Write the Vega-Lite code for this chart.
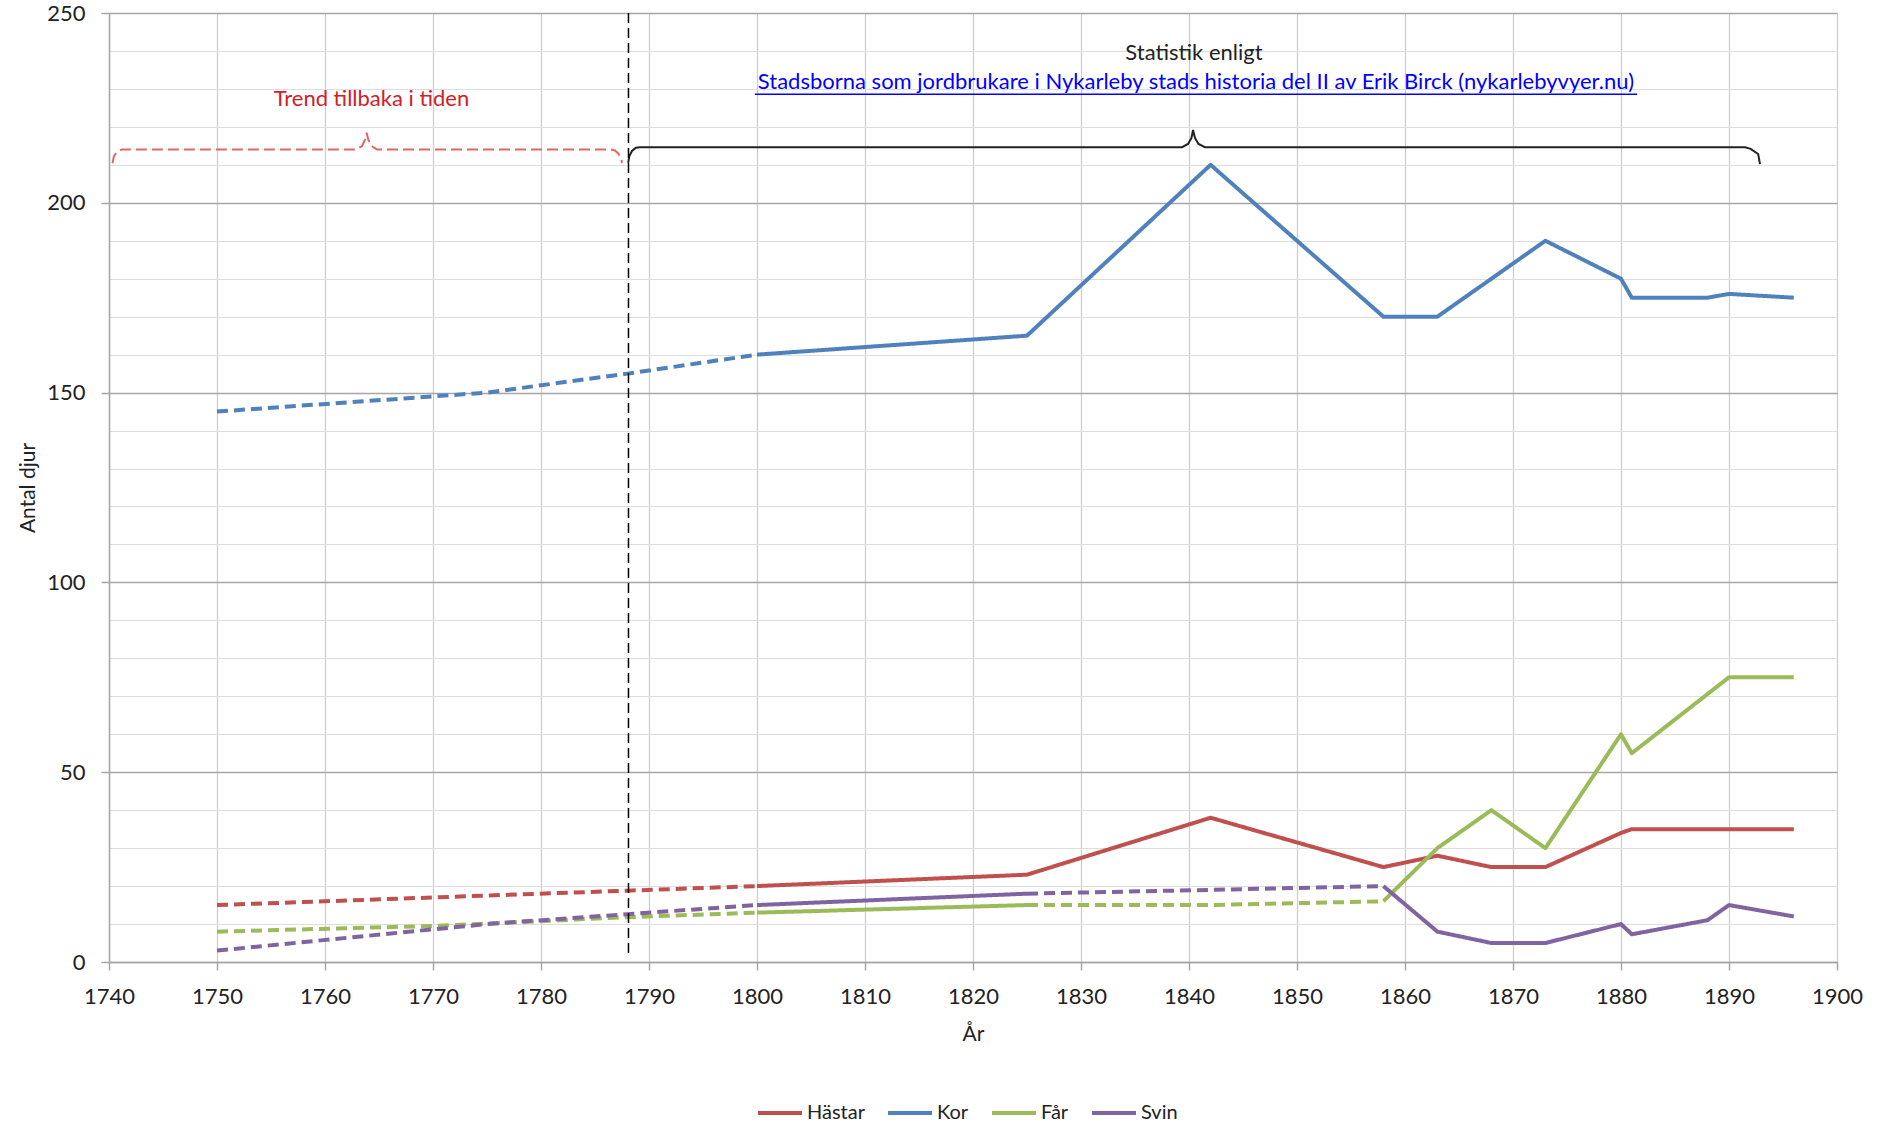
{
  "$schema": "https://vega.github.io/schema/vega-lite/v6.json",
  "width": 1728,
  "height": 949,
  "autosize": {"type": "none"},
  "padding": {"left": 109, "top": 13, "right": 46, "bottom": 164},
  "background": "white",
  "config": {
    "font": "Lato",
    "view": {"stroke": null},
    "axis": {"labelFont": "Lato", "titleFont": "Lato", "titleFontWeight": "normal"}
  },
  "resolve": {"axis": {"y": "independent"}},
  "datasets": {
    "series": [
      {"serie": "Hästar", "seg": "H1", "typ": "dashed", "year": 1750, "value": 15},
      {"serie": "Hästar", "seg": "H1", "typ": "dashed", "year": 1788, "value": 18.8},
      {"serie": "Hästar", "seg": "H1", "typ": "dashed", "year": 1800, "value": 20},
      {"serie": "Hästar", "seg": "H2", "typ": "solid", "year": 1800, "value": 20},
      {"serie": "Hästar", "seg": "H2", "typ": "solid", "year": 1825, "value": 23},
      {"serie": "Hästar", "seg": "H2", "typ": "solid", "year": 1842, "value": 38},
      {"serie": "Hästar", "seg": "H2", "typ": "solid", "year": 1858, "value": 25},
      {"serie": "Hästar", "seg": "H2", "typ": "solid", "year": 1863, "value": 28},
      {"serie": "Hästar", "seg": "H2", "typ": "solid", "year": 1868, "value": 25},
      {"serie": "Hästar", "seg": "H2", "typ": "solid", "year": 1873, "value": 25},
      {"serie": "Hästar", "seg": "H2", "typ": "solid", "year": 1880, "value": 34},
      {"serie": "Hästar", "seg": "H2", "typ": "solid", "year": 1881, "value": 35},
      {"serie": "Hästar", "seg": "H2", "typ": "solid", "year": 1888, "value": 35},
      {"serie": "Hästar", "seg": "H2", "typ": "solid", "year": 1890, "value": 35},
      {"serie": "Hästar", "seg": "H2", "typ": "solid", "year": 1896, "value": 35},

      {"serie": "Kor", "seg": "K1", "typ": "dashed", "year": 1750, "value": 145},
      {"serie": "Kor", "seg": "K1", "typ": "dashed", "year": 1775, "value": 150},
      {"serie": "Kor", "seg": "K1", "typ": "dashed", "year": 1788, "value": 155},
      {"serie": "Kor", "seg": "K1", "typ": "dashed", "year": 1800, "value": 160},
      {"serie": "Kor", "seg": "K2", "typ": "solid", "year": 1800, "value": 160},
      {"serie": "Kor", "seg": "K2", "typ": "solid", "year": 1825, "value": 165},
      {"serie": "Kor", "seg": "K2", "typ": "solid", "year": 1842, "value": 210},
      {"serie": "Kor", "seg": "K2", "typ": "solid", "year": 1858, "value": 170},
      {"serie": "Kor", "seg": "K2", "typ": "solid", "year": 1863, "value": 170},
      {"serie": "Kor", "seg": "K2", "typ": "solid", "year": 1873, "value": 190},
      {"serie": "Kor", "seg": "K2", "typ": "solid", "year": 1880, "value": 180},
      {"serie": "Kor", "seg": "K2", "typ": "solid", "year": 1881, "value": 175},
      {"serie": "Kor", "seg": "K2", "typ": "solid", "year": 1888, "value": 175},
      {"serie": "Kor", "seg": "K2", "typ": "solid", "year": 1890, "value": 176},
      {"serie": "Kor", "seg": "K2", "typ": "solid", "year": 1896, "value": 175},

      {"serie": "Får", "seg": "F1", "typ": "dashed", "year": 1750, "value": 8},
      {"serie": "Får", "seg": "F1", "typ": "dashed", "year": 1770, "value": 9.5},
      {"serie": "Får", "seg": "F1", "typ": "dashed", "year": 1788, "value": 11.8},
      {"serie": "Får", "seg": "F1", "typ": "dashed", "year": 1800, "value": 13},
      {"serie": "Får", "seg": "F2", "typ": "solid", "year": 1800, "value": 13},
      {"serie": "Får", "seg": "F2", "typ": "solid", "year": 1825, "value": 15},
      {"serie": "Får", "seg": "F3", "typ": "dashed", "year": 1825, "value": 15},
      {"serie": "Får", "seg": "F3", "typ": "dashed", "year": 1842, "value": 15},
      {"serie": "Får", "seg": "F3", "typ": "dashed", "year": 1858, "value": 16},
      {"serie": "Får", "seg": "F4", "typ": "solid", "year": 1858, "value": 16},
      {"serie": "Får", "seg": "F4", "typ": "solid", "year": 1863, "value": 30},
      {"serie": "Får", "seg": "F4", "typ": "solid", "year": 1868, "value": 40},
      {"serie": "Får", "seg": "F4", "typ": "solid", "year": 1873, "value": 30},
      {"serie": "Får", "seg": "F4", "typ": "solid", "year": 1880, "value": 60},
      {"serie": "Får", "seg": "F4", "typ": "solid", "year": 1881, "value": 55},
      {"serie": "Får", "seg": "F4", "typ": "solid", "year": 1890, "value": 75},
      {"serie": "Får", "seg": "F4", "typ": "solid", "year": 1896, "value": 75},

      {"serie": "Svin", "seg": "S1", "typ": "dashed", "year": 1750, "value": 3},
      {"serie": "Svin", "seg": "S1", "typ": "dashed", "year": 1770, "value": 8.6},
      {"serie": "Svin", "seg": "S1", "typ": "dashed", "year": 1775, "value": 10},
      {"serie": "Svin", "seg": "S1", "typ": "dashed", "year": 1788, "value": 12.6},
      {"serie": "Svin", "seg": "S1", "typ": "dashed", "year": 1800, "value": 15},
      {"serie": "Svin", "seg": "S2", "typ": "solid", "year": 1800, "value": 15},
      {"serie": "Svin", "seg": "S2", "typ": "solid", "year": 1825, "value": 18},
      {"serie": "Svin", "seg": "S3", "typ": "dashed", "year": 1825, "value": 18},
      {"serie": "Svin", "seg": "S3", "typ": "dashed", "year": 1842, "value": 19},
      {"serie": "Svin", "seg": "S3", "typ": "dashed", "year": 1858, "value": 20},
      {"serie": "Svin", "seg": "S4", "typ": "solid", "year": 1858, "value": 20},
      {"serie": "Svin", "seg": "S4", "typ": "solid", "year": 1863, "value": 8},
      {"serie": "Svin", "seg": "S4", "typ": "solid", "year": 1868, "value": 5},
      {"serie": "Svin", "seg": "S4", "typ": "solid", "year": 1873, "value": 5},
      {"serie": "Svin", "seg": "S4", "typ": "solid", "year": 1880, "value": 10},
      {"serie": "Svin", "seg": "S4", "typ": "solid", "year": 1881, "value": 7.3},
      {"serie": "Svin", "seg": "S4", "typ": "solid", "year": 1888, "value": 11},
      {"serie": "Svin", "seg": "S4", "typ": "solid", "year": 1890, "value": 15},
      {"serie": "Svin", "seg": "S4", "typ": "solid", "year": 1896, "value": 12}
    ],
    "braceRed": [
      {"i": 0, "year": 1740.32, "value": 210.4},
      {"i": 1, "year": 1740.46, "value": 212.3},
      {"i": 2, "year": 1740.74, "value": 213.4},
      {"i": 3, "year": 1741.2, "value": 214.07},
      {"i": 4, "year": 1762.93, "value": 214.07},
      {"i": 5, "year": 1763.43, "value": 214.96},
      {"i": 6, "year": 1763.7, "value": 216.54},
      {"i": 7, "year": 1763.85, "value": 218.46},
      {"i": 8, "year": 1764.02, "value": 216.54},
      {"i": 9, "year": 1764.3, "value": 214.96},
      {"i": 10, "year": 1764.81, "value": 214.07},
      {"i": 11, "year": 1786.39, "value": 214.07},
      {"i": 12, "year": 1786.85, "value": 213.8},
      {"i": 13, "year": 1787.18, "value": 212.9},
      {"i": 14, "year": 1787.41, "value": 211.85},
      {"i": 15, "year": 1787.5, "value": 210.5}
    ],
    "braceBlack": [
      {"i": 0, "year": 1788.07, "value": 210.5},
      {"i": 1, "year": 1788.18, "value": 212.3},
      {"i": 2, "year": 1788.42, "value": 213.65},
      {"i": 3, "year": 1788.79, "value": 214.5},
      {"i": 4, "year": 1789.17, "value": 214.65},
      {"i": 5, "year": 1839.36, "value": 214.65},
      {"i": 6, "year": 1839.91, "value": 215.49},
      {"i": 7, "year": 1840.23, "value": 217.07},
      {"i": 8, "year": 1840.37, "value": 219.18},
      {"i": 9, "year": 1840.56, "value": 217.07},
      {"i": 10, "year": 1840.88, "value": 215.49},
      {"i": 11, "year": 1841.48, "value": 214.65},
      {"i": 12, "year": 1891.5, "value": 214.65},
      {"i": 13, "year": 1892.0, "value": 214.2},
      {"i": 14, "year": 1892.7, "value": 212.85},
      {"i": 15, "year": 1892.87, "value": 210.2}
    ]
  },
  "layer": [
    {
      "data": {"name": "series"},
      "mark": {"type": "line", "strokeWidth": 4, "strokeCap": "butt", "strokeJoin": "round"},
      "encoding": {
        "x": {
          "field": "year", "type": "quantitative",
          "scale": {"domain": [1740, 1900], "nice": false, "zero": false},
          "axis": {
            "values": [1740, 1750, 1760, 1770, 1780, 1790, 1800, 1810, 1820, 1830, 1840, 1850, 1860, 1870, 1880, 1890, 1900],
            "format": "d", "labelFlush": false, "labelOverlap": false,
            "title": "År", "titleFontSize": 21, "titleColor": "#222", "titleY": 72, "titleBaseline": "middle",
            "labelFontSize": 22, "labelColor": "#222", "labelPadding": 16,
            "tickSize": 8, "tickColor": "#A6A6A6", "tickWidth": 1.5,
            "domainColor": "#A6A6A6", "domainWidth": 1.5,
            "grid": true, "gridColor": "#CCCCCC", "gridWidth": 1.2
          }
        },
        "y": {
          "field": "value", "type": "quantitative",
          "scale": {"domain": [0, 250], "nice": false},
          "axis": {
            "orient": "left",
            "values": [0, 50, 100, 150, 200, 250],
            "labelOverlap": false, "labelFlush": false,
            "title": "Antal djur", "titleFontSize": 21, "titleColor": "#222", "titleX": -81, "titleBaseline": "middle",
            "labelFontSize": 22, "labelColor": "#222", "labelPadding": 16,
            "tickSize": 8, "tickColor": "#A6A6A6", "tickWidth": 1.5,
            "domainColor": "#A6A6A6", "domainWidth": 1.5,
            "grid": true, "gridColor": "#A6A6A6", "gridWidth": 1.5
          }
        },
        "color": {
          "field": "serie", "type": "nominal",
          "scale": {"domain": ["Hästar", "Kor", "Får", "Svin"], "range": ["#C0504D", "#4F81BD", "#9BBB59", "#8064A2"]},
          "legend": {
            "orient": "none", "legendX": 647, "legendY": 1076, "direction": "horizontal", "title": null,
            "symbolType": "stroke", "symbolSize": 1936, "symbolStrokeWidth": 4,
            "labelFont": "Lato", "labelFontSize": 20, "labelColor": "#222", "labelOffset": 3, "columnPadding": 15
          }
        },
        "strokeDash": {
          "field": "typ", "type": "nominal",
          "scale": {"domain": ["solid", "dashed"], "range": [[1, 0], [11, 6]]},
          "legend": null
        },
        "detail": {"field": "seg", "type": "nominal"}
      }
    },
    {
      "data": {"name": "braceRed"},
      "mark": {"type": "line", "color": "#E06666", "strokeWidth": 2, "strokeDash": [11, 5]},
      "encoding": {
        "x": {"field": "year", "type": "quantitative"},
        "y": {
          "field": "value", "type": "quantitative",
          "axis": {
            "orient": "right",
            "values": [10, 20, 30, 40, 60, 70, 80, 90, 110, 120, 130, 140, 160, 170, 180, 190, 210, 220, 230, 240],
            "grid": true, "gridColor": "#DDDDDD", "gridWidth": 1.2,
            "labels": false, "ticks": false, "domain": false, "title": null
          }
        },
        "order": {"field": "i", "type": "quantitative"}
      }
    },
    {
      "data": {"name": "braceBlack"},
      "mark": {"type": "line", "color": "#222222", "strokeWidth": 2},
      "encoding": {
        "x": {"field": "year", "type": "quantitative"},
        "y": {"field": "value", "type": "quantitative", "axis": null},
        "order": {"field": "i", "type": "quantitative"}
      }
    },
    {
      "data": {"values": [{}]},
      "mark": {"type": "rule", "color": "#000000", "strokeWidth": 1.5, "strokeDash": [10, 5]},
      "encoding": {
        "x": {"datum": 1788.1, "type": "quantitative"},
        "y": {"datum": 250, "type": "quantitative", "axis": null},
        "y2": {"datum": 1.4}
      }
    },
    {
      "data": {"values": [{}]},
      "mark": {"type": "text", "font": "Lato", "fontSize": 22, "color": "#222222", "baseline": "middle", "align": "center"},
      "encoding": {
        "x": {"datum": 1840.46, "type": "quantitative"},
        "y": {"datum": 239.5, "type": "quantitative", "axis": null},
        "text": {"value": "Statistik enligt"}
      }
    },
    {
      "data": {"values": [{}]},
      "mark": {"type": "text", "font": "Lato", "fontSize": 22, "color": "#0000FF", "baseline": "middle", "align": "center"},
      "encoding": {
        "x": {"datum": 1840.65, "type": "quantitative"},
        "y": {"datum": 231.8, "type": "quantitative", "axis": null},
        "text": {"value": "Stadsborna som jordbrukare i Nykarleby stads historia del II av Erik Birck (nykarlebyvyer.nu)"}
      }
    },
    {
      "data": {"values": [{}]},
      "mark": {"type": "rule", "color": "#0000FF", "strokeWidth": 1.5},
      "encoding": {
        "x": {"datum": 1799.8, "type": "quantitative"},
        "x2": {"datum": 1881.5},
        "y": {"datum": 228.6, "type": "quantitative", "axis": null}
      }
    },
    {
      "data": {"values": [{}]},
      "mark": {"type": "text", "font": "Lato", "fontSize": 22, "color": "#D0202A", "baseline": "middle", "align": "center"},
      "encoding": {
        "x": {"datum": 1764.3, "type": "quantitative"},
        "y": {"datum": 227.3, "type": "quantitative", "axis": null},
        "text": {"value": "Trend tillbaka i tiden"}
      }
    }
  ]
}
